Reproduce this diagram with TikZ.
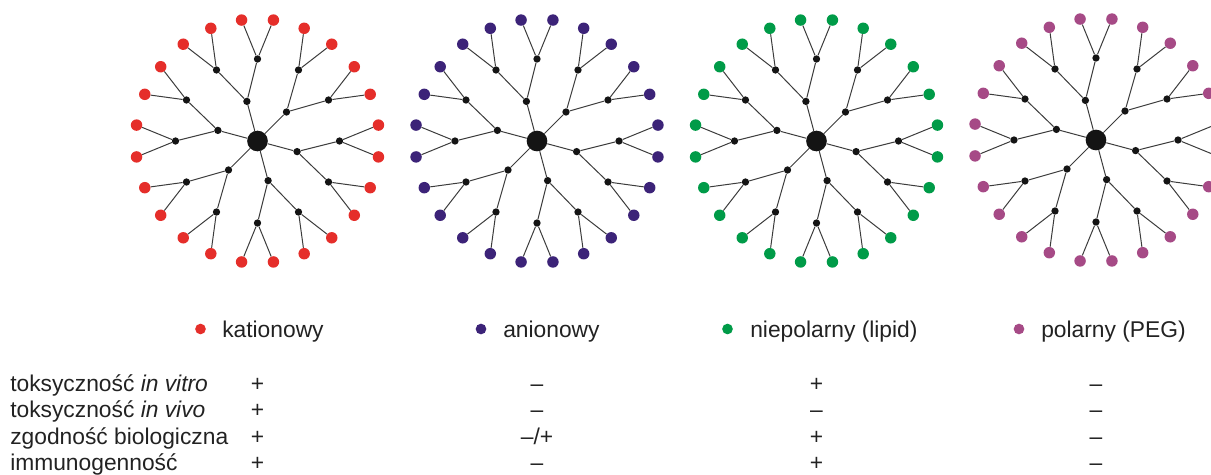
\documentclass[tikz,border=0pt]{standalone}
\usepackage{fontspec}
\setmainfont{Liberation Sans}
\usetikzlibrary{calc}

\definecolor{catred}{RGB}{229,46,42}
\definecolor{anipurple}{RGB}{60,35,120}
\definecolor{lipgreen}{RGB}{0,155,72}
\definecolor{pegpink}{RGB}{166,74,134}
\definecolor{ink}{RGB}{34,34,34}
\definecolor{bondgray}{RGB}{60,60,60}

\tikzset{
  core/.style={circle,fill=black!92,inner sep=0pt,minimum size=15.5},
  branch/.style={circle,fill=black!92,inner sep=0pt,minimum size=5.5},
  tip/.style={circle,fill=#1,inner sep=0pt,minimum size=8.6},
  bond/.style={draw=bondgray,line width=0.75pt},
  key/.style={circle,fill=#1,inner sep=0pt,minimum size=8},
  label/.style={text=ink,font=\fontsize{17.1}{20}\selectfont,inner sep=0pt},
}

% One dendrimer: #1 name prefix, #2 centre, #3 colour of the end groups
\newcommand{\dendrimer}[3]{%
  \node[core] (#1c) at (#2) {};
  \foreach \a in {15,75,...,315} {%
    \node[branch] (#1a\a) at ($(#2)+(\a:41)$) {};
    \draw[bond] (#1c) -- (#1a\a);
    \foreach \d in {-15,15} {%
      \pgfmathtruncatemacro\b{\a+\d}%
      \node[branch] (#1b\b) at ($(#2)+(\b:82)$) {};
      \draw[bond] (#1a\a) -- (#1b\b);
      \foreach \e [count=\k] in {-7.5,7.5} {%
        \node[tip=#3] (#1t\b-\k) at ($(#2)+(\b+\e:122)$) {};
        \draw[bond] (#1b\b) -- (#1t\b-\k);
      }
    }
  }
}

\begin{document}
\begin{tikzpicture}[x=0.75pt,y=-0.75pt]
\useasboundingbox (0,0) rectangle (1211,475);
\clip (0,0) rectangle (1211,475);

% dendrimers
\coordinate (cA) at (257.5,141);
\coordinate (cB) at (537,141);
\coordinate (cC) at (816.5,141);
\coordinate (cD) at (1096,140);
\dendrimer{A}{cA}{catred}
\dendrimer{B}{cB}{anipurple}
\dendrimer{C}{cC}{lipgreen}
\dendrimer{D}{cD}{pegpink}

% legend
\node[key=catred]    (kA) at (200.5,329) {};
\node[key=anipurple] (kB) at (481,329) {};
\node[key=lipgreen]  (kC) at (727.5,329) {};
\node[key=pegpink]   (kD) at (1019,329) {};
\node[label,anchor=base west] (lA) at (222,337) {kationowy};
\node[label,anchor=base west] (lB) at (503,337) {anionowy};
\node[label,anchor=base west] (lC) at (750,337) {niepolarny (lipid)};
\node[label,anchor=base west] (lD) at (1041,337) {polarny (PEG)};

% property table
\foreach \row/\y/\txt in {1/391.5/{toksyczność \textit{in vitro}},
                          2/417.8/{toksyczność \textit{in vivo}},
                          3/444.1/{zgodność biologiczna},
                          4/470.4/{immunogenność}} {
  \node[label,anchor=base west] (p\row) at (10,\y) {\txt};
}
\foreach \row/\y/\va/\vb/\vc/\vd in {1/391.5/+/--/+/--,
                                     2/417.8/+/--/--/--,
                                     3/444.1/+/{--/+}/+/--,
                                     4/470.4/+/--/+/--} {
  \node[label,anchor=base] (vA\row) at (257.5,\y) {\va};
  \node[label,anchor=base] (vB\row) at (537,\y) {\vb};
  \node[label,anchor=base] (vC\row) at (816.5,\y) {\vc};
  \node[label,anchor=base] (vD\row) at (1096,\y) {\vd};
}
\end{tikzpicture}
\end{document}
